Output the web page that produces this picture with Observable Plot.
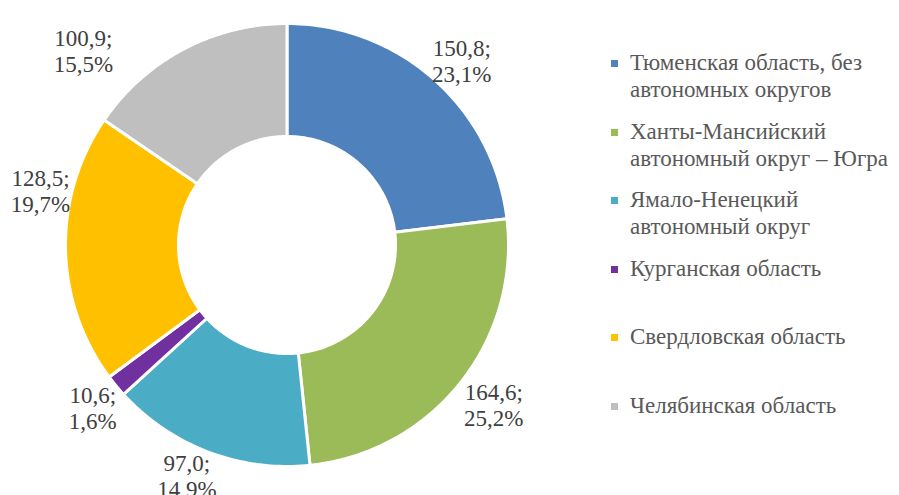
<!DOCTYPE html>
<html>
<head>
<meta charset="utf-8">
<script src="https://cdn.jsdelivr.net/npm/d3@7"></script>
<script src="https://cdn.jsdelivr.net/npm/@observablehq/plot@0.6"></script>
<style>
  html, body { margin: 0; padding: 0; background: #fff; }
  #wrap { position: relative; width: 899px; height: 495px; overflow: hidden; }
  #legend { position: absolute; left: 611px; top: 49px; font-family: serif; font-size: 23px; color: #595959; }
  .item { position: relative; height: 68.6px; padding-left: 19px; line-height: 27px; white-space: nowrap; }
  .sw { position: absolute; left: 0; top: 11px; width: 7px; height: 7px; }
</style>
</head>
<body>
<div id="wrap"><div id="legend"></div></div>
<script>
const names = [
  "Тюменская область, без автономных округов",
  "Ханты-Мансийский автономный округ – Югра",
  "Ямало-Ненецкий автономный округ",
  "Курганская область",
  "Свердловская область",
  "Челябинская область"
];
const legendLines = [
  ["Тюменская область, без", "автономных округов"],
  ["Ханты-Мансийский", "автономный округ – Югра"],
  ["Ямало-Ненецкий", "автономный округ"],
  ["Курганская область"],
  ["Свердловская область"],
  ["Челябинская область"]
];
const values = [150.8, 164.6, 97.0, 10.6, 128.5, 100.9];
const percents = ["23,1%", "25,2%", "14,9%", "1,6%", "19,7%", "15,5%"];
const colors = ["#4F81BD", "#9BBB59", "#4BACC6", "#7030A0", "#FFC000", "#BFBFBF"];
// label nudges (px)
const labelDx = [5, 7, -10, 2, 8, -85];
const labelDy = [6, 0, -8, 0, -60, 31];

const k = 221.5;           // px per unit radius
const cx = 287, cy = 245;  // centre in px
const rOuter = 1, rInner = 0.49;

const arcs = d3.pie().sort(null).value(d => d)(values);

const pts = [];
arcs.forEach((a, i) => {
  const n = Math.max(4, Math.ceil((a.endAngle - a.startAngle) / 0.02));
  for (let j = 0; j <= n; j++) {
    const t = a.startAngle + (a.endAngle - a.startAngle) * j / n;
    pts.push({
      name: names[i],
      x1: rOuter * Math.sin(t), y1: -rOuter * Math.cos(t),
      x2: rInner * Math.sin(t), y2: -rInner * Math.cos(t)
    });
  }
});

const fmt = v => v.toFixed(1).replace(".", ",");
const labels = arcs.map((a, i) => {
  const m = (a.startAngle + a.endAngle) / 2;
  const r = 255 / k;
  return {
    x: r * Math.sin(m), y: -r * Math.cos(m),
    text: fmt(values[i]) + ";\n" + percents[i],
    dx: labelDx[i], dy: labelDy[i]
  };
});

const chart = Plot.plot({
  width: 899, height: 495,
  margin: 0,
  x: { domain: [-cx / k, (899 - cx) / k], range: [0, 899], axis: null },
  y: { domain: [-cy / k, (495 - cy) / k], range: [0, 495], axis: null },
  color: { domain: names, range: colors },
  style: { background: "white", fontFamily: "serif" },
  marks: [
    Plot.area(pts, { x1: "x1", y1: "y1", x2: "x2", y2: "y2", z: "name", fill: "name", stroke: "white", strokeWidth: 3, curve: "linear" }),
    ...labels.map(l => Plot.text([l], { x: "x", y: "y", text: "text", dx: l.dx, dy: l.dy, fontSize: 23, lineHeight: 1.12, fill: "#404040", fontFamily: "serif" }))
  ]
});
document.getElementById("wrap").prepend(chart);

const legend = document.getElementById("legend");
legendLines.forEach((lines, i) => {
  const it = document.createElement("div");
  it.className = "item";
  const sw = document.createElement("span");
  sw.className = "sw";
  sw.style.background = colors[i];
  it.appendChild(sw);
  lines.forEach(t => { const d = document.createElement("div"); d.textContent = t; it.appendChild(d); });
  legend.appendChild(it);
});
</script>
</body>
</html>
